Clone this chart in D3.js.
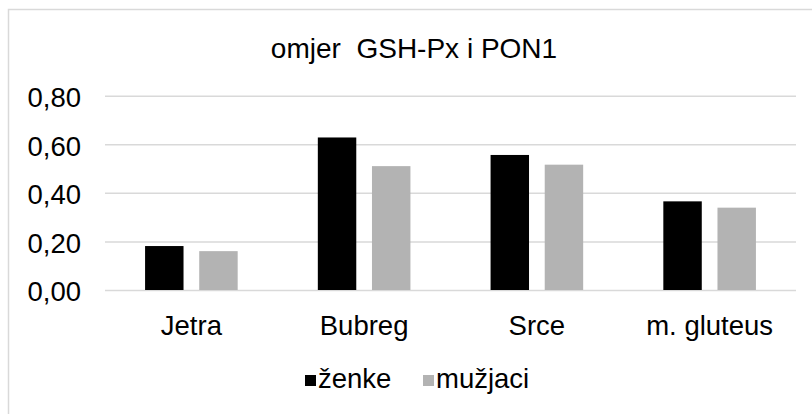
<!DOCTYPE html>
<html><head><meta charset="utf-8">
<script src="https://cdn.jsdelivr.net/npm/d3@7"></script>
<style>
html,body{margin:0;padding:0;background:#fff;}
svg{display:block;font-family:"Liberation Sans",Arial,sans-serif;}
</style></head>
<body>
<svg id="c" width="812" height="414"></svg>
<script>
const title = "omjer\u00A0 GSH-Px i PON1";
const categories = ["Jetra", "Bubreg", "Srce", "m. gluteus"];
const seriesNames = ["ženke", "mužjaci"];
const zenke = [0.181, 0.628, 0.556, 0.365];
const muzjaci = [0.160, 0.510, 0.516, 0.339];
const yTicks = [0, 0.2, 0.4, 0.6, 0.8];
const colors = ["#000000", "#b3b3b3"];

const svg = d3.select("#c");
const W = 812, H = 414;
const plot = {left: 105, right: 796, top: 95.7, bottom: 290};

svg.append("rect").attr("x", 8.5).attr("y", 9.5).attr("width", W + 10).attr("height", H + 10)
  .attr("fill", "#fff").attr("stroke", "#d9d9d9").attr("stroke-width", 1.5);

const x = d3.scaleBand().domain(categories).range([plot.left, plot.right]).paddingInner(0).paddingOuter(0);
const y = d3.scaleLinear().domain([0, 0.8]).range([plot.bottom, plot.top]);
const fmt = v => d3.format(".2f")(v).replace(".", ",");

// gridlines
const yAxis = d3.axisLeft(y).tickValues(yTicks).tickSize(-(plot.right - plot.left)).tickFormat(fmt).tickPadding(24);
const gy = svg.append("g").attr("transform", `translate(${plot.left},0)`).call(yAxis);
gy.select(".domain").remove();
gy.selectAll(".tick line").attr("stroke", "#d9d9d9").attr("stroke-width", 1.5);
gy.selectAll(".tick text").attr("font-size", 27.5).attr("fill", "#000").attr("dy", "0.39em")
  .attr("font-family", "Liberation Sans, Arial, sans-serif");

// bars
const inner = d3.scaleBand().domain(seriesNames).range([0, x.bandwidth()]).paddingInner(0.29).paddingOuter(0.74);
const data = [zenke, muzjaci];
seriesNames.forEach((s, si) => {
  svg.append("g").selectAll("rect").data(categories).join("rect")
    .attr("x", c => x(c) + inner(s))
    .attr("width", inner.bandwidth())
    .attr("y", (c, i) => y(data[si][i]))
    .attr("height", (c, i) => y(0) - y(data[si][i]))
    .attr("fill", colors[si]);
});

// x axis labels
const xAxis = d3.axisBottom(x).tickSize(0).tickPadding(0);
const gx = svg.append("g").attr("transform", `translate(0,${plot.bottom})`).call(xAxis);
gx.select(".domain").remove();
gx.selectAll(".tick text").attr("font-size", 27.5).attr("fill", "#000").attr("dy", 0).attr("y", 45)
  .attr("font-family", "Liberation Sans, Arial, sans-serif");

// title
svg.append("text").attr("x", 414).attr("y", 58).attr("text-anchor", "middle")
  .attr("font-size", 28).attr("fill", "#000").text(title);

// legend
const legX = [305, 423];
const lg = svg.append("g");
seriesNames.forEach((s, i) => {
  lg.append("rect").attr("x", legX[i]).attr("y", 375).attr("width", 11).attr("height", 11).attr("fill", colors[i]);
  lg.append("text").attr("x", legX[i] + 13).attr("y", 388).attr("font-size", 27.5).attr("fill", "#000").text(s);
});
</script>
</body></html>
